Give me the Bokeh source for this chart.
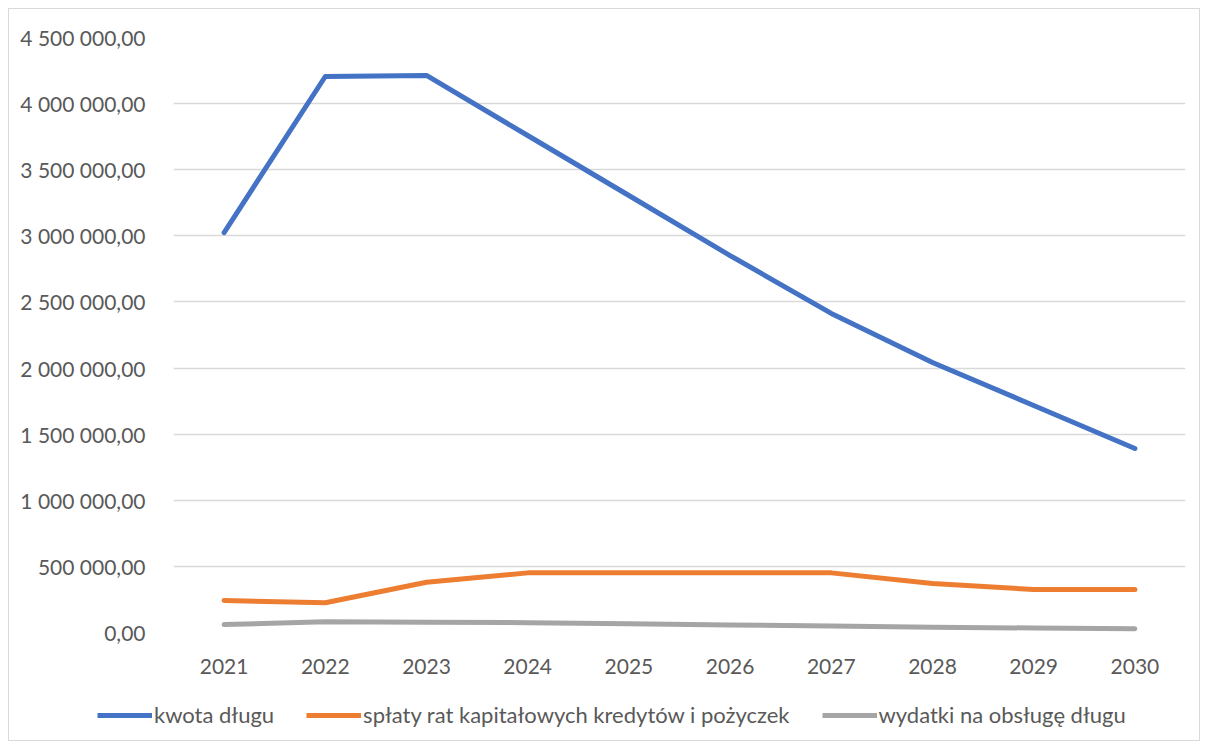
from bokeh.plotting import figure
from bokeh.layouts import column
from bokeh.models import Range1d, FactorRange, FixedTicker, Legend, LegendItem, CustomJSTickFormatter
from bokeh.embed import file_html
from bokeh.resources import INLINE

years = ["2021", "2022", "2023", "2024", "2025", "2026", "2027", "2028", "2029", "2030"]
kwota_dlugu = [3025000, 4205000, 4213000, 3759000, 3305000, 2851000, 2413000, 2042000, 1717000, 1392000]
splaty_rat = [242000, 225000, 380000, 451000, 451000, 451000, 451000, 370000, 325000, 325000]
wydatki_obsluga = [60000, 81000, 78000, 74000, 66000, 57000, 49000, 40000, 34000, 28000]
y_ticks = [0, 500000, 1000000, 1500000, 2000000, 2500000, 3000000, 3500000, 4000000, 4500000]
series_names = ["kwota długu", "spłaty rat kapitałowych kredytów i pożyczek", "wydatki na obsługę długu"]
series_colors = ["#4472C4", "#ED7D31", "#A5A5A5"]
series_values = [kwota_dlugu, splaty_rat, wydatki_obsluga]

FONT = "Lato"
TXT = "#595959"
FS = "21px"

p = figure(width=1190, height=681, x_range=FactorRange(*years), y_range=Range1d(0, 4500000),
           output_backend="svg", toolbar_location=None,
           min_border_left=164, min_border_right=14, min_border_top=28, min_border_bottom=58)
p.outline_line_color = None
p.border_fill_color = "white"
p.background_fill_color = "white"

for vals, col in zip(series_values, series_colors):
    p.line(years, vals, line_color=col, line_width=5, line_cap="round", line_join="round")

p.yaxis.ticker = FixedTicker(ticks=y_ticks)
p.yaxis.formatter = CustomJSTickFormatter(code="""
const s = Math.round(tick).toString().replace(/\\B(?=(\\d{3})+(?!\\d))/g, ' ');
return s + ',00';
""")
for ax in (p.xaxis, p.yaxis):
    ax.axis_line_color = None
    ax.major_tick_line_color = None
    ax.minor_tick_line_color = None
    ax.major_label_text_font = FONT
    ax.major_label_text_font_size = FS
    ax.major_label_text_color = TXT
p.yaxis.major_label_standoff = 22
p.xaxis.major_label_standoff = 20
p.xgrid.grid_line_color = None
p.ygrid.grid_line_color = "#d9d9d9"
p.ygrid.grid_line_width = 1.5

# legend strip below the plot (series drawn off-screen so legend glyphs get styles)
lf = figure(width=1190, height=50, x_range=FactorRange(*years), y_range=Range1d(-2, -1),
            output_backend="svg", toolbar_location=None,
            min_border_left=0, min_border_right=0, min_border_top=0, min_border_bottom=0)
if hasattr(lf, "frame_align"):
    lf.frame_align = False
    p.frame_align = False
lf.xaxis.visible = False
lf.yaxis.visible = False
lf.grid.visible = False
lf.outline_line_color = None
items = []
for name, vals, col in zip(series_names, series_values, series_colors):
    r = lf.line(years, vals, line_color=col, line_width=5)
    items.append(LegendItem(label=name, renderers=[r]))
legend = Legend(items=items, orientation="horizontal", location=(88, 12))
legend.label_text_font = FONT
legend.label_text_font_size = "22px"
legend.label_text_color = TXT
legend.glyph_width = 55
legend.label_standoff = 2
legend.spacing = 32
legend.border_line_color = None
legend.background_fill_alpha = 0
legend.margin = 0
legend.padding = 0
lf.add_layout(legend, "center")

layout = column(p, lf, spacing=0)
layout.styles = {"border": "1px solid #d9d9d9", "background": "white", "margin": "8px"}

html = file_html(layout, INLINE)
open("out.html", "w").write(html)
